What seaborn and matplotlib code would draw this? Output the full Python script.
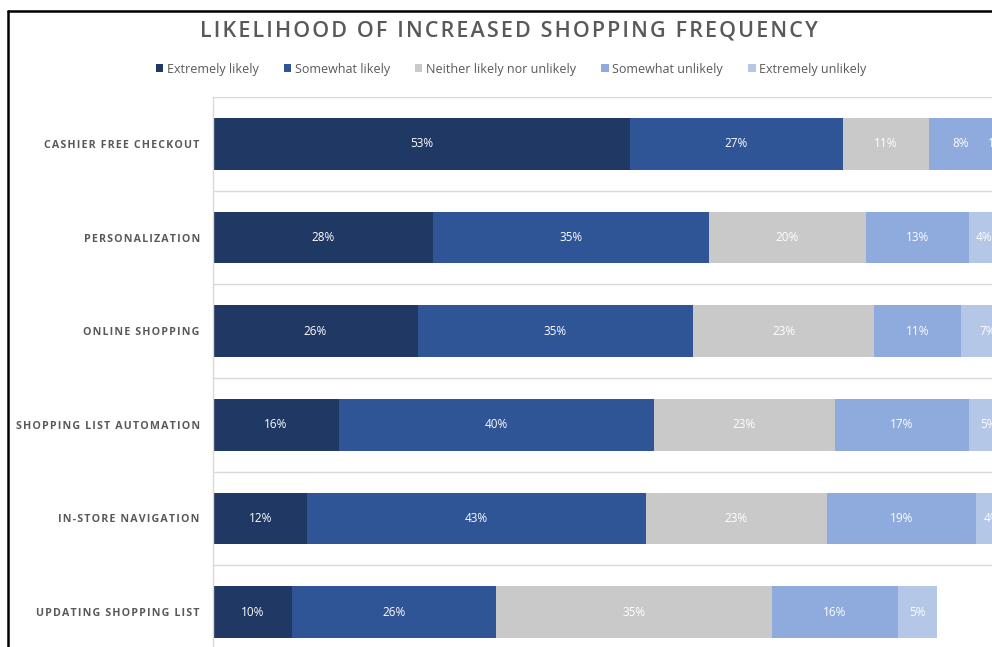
import matplotlib
matplotlib.use("Agg")
import matplotlib.pyplot as plt
from matplotlib.patches import Patch
from matplotlib.lines import Line2D
import numpy as np
import pandas as pd
import seaborn as sns

# Survey results: share of respondents per answer, in percent
categories = [
    "CASHIER FREE CHECKOUT",
    "PERSONALIZATION",
    "ONLINE SHOPPING",
    "SHOPPING LIST AUTOMATION",
    "IN-STORE NAVIGATION",
    "UPDATING SHOPPING LIST",
]
extremely_likely = [53, 28, 26, 16, 12, 10]
somewhat_likely = [27, 35, 35, 40, 43, 26]
neither = [11, 20, 23, 23, 23, 35]
somewhat_unlikely = [8, 13, 11, 17, 19, 16]
extremely_unlikely = [1, 4, 7, 5, 4, 5]

series_names = [
    "Extremely likely",
    "Somewhat likely",
    "Neither likely nor unlikely",
    "Somewhat unlikely",
    "Extremely unlikely",
]
series_values = [extremely_likely, somewhat_likely, neither,
                 somewhat_unlikely, extremely_unlikely]
series_colors = ["#203864", "#2F5597", "#C9C9C9", "#8FAADC", "#B4C7E7"]

TEXT_GREY = "#595959"
GRID_GREY = "#D9D9D9"

sns.set_theme(style="white")
plt.rcParams["font.family"] = ["Open Sans", "DejaVu Sans"]

W, H = 992, 647
fig = plt.figure(figsize=(W / 100, H / 100), dpi=100)
fig.patch.set_facecolor("white")

# plot area in pixel terms (extends slightly past the right/bottom edge)
left_px, top_px, right_px, bottom_px = 213, 97, 1000, 659
ax = fig.add_axes([left_px / W, 1 - bottom_px / H,
                   (right_px - left_px) / W, (bottom_px - top_px) / H])

values = np.array(series_values, dtype=float)
cum = np.cumsum(values, axis=0)

# stacked bars: draw cumulative totals from the outermost series inward
for k in range(len(series_names) - 1, -1, -1):
    df = pd.DataFrame({"category": categories, "value": cum[k]})
    sns.barplot(data=df, x="value", y="category", orient="h",
                color=series_colors[k], saturation=1, width=0.555,
                ax=ax, edgecolor="none", linewidth=0)

# segment value labels
for k in range(len(series_names)):
    starts = cum[k] - values[k]
    for i, v in enumerate(values[k]):
        ax.text(starts[i] + v / 2, i, f"{v:.0f}%", ha="center", va="center",
                color="white", fontsize=8.5)

ax.set_xlim(0, 100)
ax.set_ylim(len(categories) - 0.5, -0.5)
ax.set_xlabel("")
ax.set_ylabel("")
ax.set_xticks([])

# category gridlines between the bars
ax.set_yticks(np.arange(-0.5, len(categories) + 0.5, 1), minor=True)
ax.grid(which="minor", axis="y", color=GRID_GREY, linewidth=1.0)
ax.grid(which="major", visible=False)
ax.set_axisbelow(True)

def spaced(s):
    return "\u200a".join(s)

ax.set_yticks(range(len(categories)))
ax.set_yticklabels([spaced(c) for c in categories])
ax.tick_params(axis="y", which="both", length=0, pad=9.5)
for lab in ax.get_yticklabels():
    lab.set_fontweight("bold")
    lab.set_color(TEXT_GREY)
    lab.set_fontsize(7.7)

for side in ["top", "right", "bottom"]:
    ax.spines[side].set_visible(False)
ax.spines["left"].set_color(GRID_GREY)
ax.spines["left"].set_linewidth(1.0)

# title and legend
fig.text(509 / W, 1 - 31 / H, spaced("LIKELIHOOD OF INCREASED SHOPPING FREQUENCY"),
         ha="center", va="center", fontsize=15.5, fontweight="semibold",
         color=TEXT_GREY)

handles = [Patch(facecolor=c, edgecolor="none") for c in series_colors]
leg = fig.legend(handles, series_names, loc="center",
                 bbox_to_anchor=(511 / W, 1 - 69 / H), ncol=5, frameon=False,
                 fontsize=9, handlelength=0.6, handleheight=0.6,
                 handletextpad=0.3, columnspacing=2.0, labelcolor=TEXT_GREY)

# outer frame of the chart
lw = 1.8
fig.add_artist(Line2D([8.3 / W, 8.3 / W], [1 - 10.5 / H, -0.05],
                      transform=fig.transFigure, color="black", linewidth=lw))
fig.add_artist(Line2D([8.3 / W, 1.05], [1 - 10.5 / H, 1 - 10.5 / H],
                      transform=fig.transFigure, color="black", linewidth=lw))

fig.savefig("out.png", dpi=100)
